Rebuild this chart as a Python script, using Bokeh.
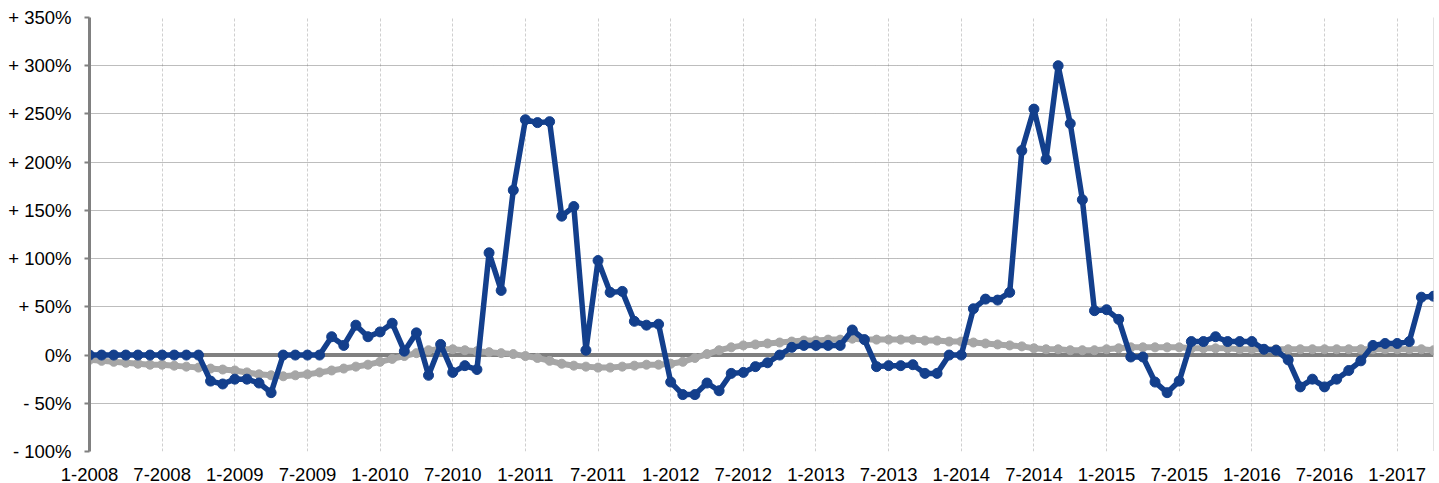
from bokeh.plotting import figure
from bokeh.models import Range1d, FixedTicker, Span, ColumnDataSource
from bokeh.embed import file_html
from bokeh.resources import INLINE

# Monthly observations, Jan 2008 .. Apr 2017 (112 months)
month_labels = [f"{m}-{y}" for y in range(2008, 2018) for m in range(1, 13)][:112]

blue_pct = [0, 0, 0, 0, 0, 0, 0, 0, 0, 0,
            -27, -30, -25, -25, -29, -39, 0, 0, 0, 0,
            19, 10, 31, 19, 24, 33, 4, 23, -21, 11,
            -18, -11, -15, 106, 67, 171, 244, 241, 242, 144,
            154, 5, 98, 65, 66, 35, 31, 32, -28, -41,
            -41, -29, -37, -19, -18, -12, -8, 0, 8, 10,
            10, 10, 10, 26, 16, -12, -11, -11, -10, -19,
            -19, 0, 0, 48, 58, 57, 65, 212, 255, 203,
            300, 240, 161, 46, 47, 37, -2, -2, -28, -39,
            -27, 14, 14, 19, 14, 14, 14, 6, 5, -5,
            -33, -25, -33, -25, -16, -6, 10, 12, 12, 14,
            60, 61]

gray_pct = [-5, -6, -7, -8, -9, -10, -10, -11, -12, -13,
            -14, -15, -16, -18, -20, -21, -22, -21, -20, -18,
            -16, -14, -12, -10, -7, -4, -1, 2, 5, 6,
            6, 5, 4, 3, 2, 1, -1, -3, -6, -9,
            -11, -12, -13, -13, -12, -11, -10, -10, -9, -7,
            -3, 1, 5, 8, 10, 11, 12, 13, 14, 15,
            15, 16, 16, 17, 16, 16, 16, 16, 16, 15,
            15, 14, 14, 13, 12, 11, 10, 9, 7, 6,
            6, 5, 5, 5, 6, 7, 8, 8, 8, 8,
            8, 7, 7, 7, 7, 6, 6, 6, 6, 6,
            6, 6, 6, 6, 6, 6, 6, 6, 6, 6,
            6, 5]

x_tick_labels = ["1-2008", "7-2008", "1-2009", "7-2009", "1-2010", "7-2010",
                 "1-2011", "7-2011", "1-2012", "7-2012", "1-2013", "7-2013",
                 "1-2014", "7-2014", "1-2015", "7-2015", "1-2016", "7-2016",
                 "1-2017"]
y_tick_values = [-100, -50, 0, 50, 100, 150, 200, 250, 300, 350]
y_tick_labels = ["- 100%", "- 50%", "0%", "+ 50%", "+ 100%", "+ 150%",
                 "+ 200%", "+ 250%", "+ 300%", "+ 350%"]

x_idx = list(range(len(month_labels)))
x_tick_pos = [month_labels.index(l) for l in x_tick_labels]

src = ColumnDataSource(dict(x=x_idx, blue=blue_pct, gray=gray_pct))

FONT = "Liberation Sans"

p = figure(width=1439, height=483, output_backend="svg", toolbar_location=None,
           x_range=Range1d(0, len(month_labels) - 1), y_range=Range1d(-100, 350),
           min_border_left=89, min_border_right=6, min_border_top=17,
           min_border_bottom=32)
p.outline_line_color = None
p.background_fill_color = "white"
p.border_fill_color = "white"

# axes
p.xaxis.ticker = FixedTicker(ticks=x_tick_pos)
p.xaxis.major_label_overrides = {pos: lab for pos, lab in zip(x_tick_pos, x_tick_labels)}
p.xaxis.axis_line_color = None
p.xaxis.major_tick_line_color = None
p.xaxis.minor_tick_line_color = None
p.xaxis.major_label_standoff = 10
p.xaxis.major_label_text_font = FONT
p.xaxis.major_label_text_font_size = "18.5px"
p.xaxis.major_label_text_color = "#000000"

p.yaxis.ticker = FixedTicker(ticks=y_tick_values)
p.yaxis.major_label_overrides = {v: l for v, l in zip(y_tick_values, y_tick_labels)}
p.yaxis.axis_line_color = "#808080"
p.yaxis.axis_line_width = 3
p.yaxis.major_tick_line_color = "#808080"
p.yaxis.major_tick_line_width = 2
p.yaxis.major_tick_out = 5
p.yaxis.major_tick_in = 0
p.yaxis.minor_tick_line_color = None
p.yaxis.major_label_standoff = 13
p.yaxis.major_label_text_font = FONT
p.yaxis.major_label_text_font_size = "18.5px"
p.yaxis.major_label_text_color = "#000000"

# grids
p.ygrid.grid_line_color = "#7a7a7a"
p.ygrid.grid_line_dash = "1 1"
p.ygrid.grid_line_width = 1
p.xgrid.grid_line_color = "#cfcfcf"
p.xgrid.grid_line_dash = "3 2"
p.xgrid.grid_line_width = 1

right_edge = Span(location=len(month_labels) - 1, dimension="height",
                  line_color="#8a8a8a", line_dash="1 1", line_width=1)
p.add_layout(right_edge)
zero = Span(location=0, dimension="width", line_color="#808080", line_width=4,
            level="underlay")
p.add_layout(zero)

# series
GRAY = "#a6a6a6"
BLUE = "#133f8c"
p.line("x", "gray", source=src, line_color=GRAY, line_width=6)
p.scatter("x", "gray", source=src, size=9, fill_color=GRAY, line_color=GRAY)
p.line("x", "blue", source=src, line_color=BLUE, line_width=5.5, line_join="round")
p.scatter("x", "blue", source=src, size=10, fill_color=BLUE, line_color=BLUE)

open("out.html", "w").write(file_html(p, INLINE))
